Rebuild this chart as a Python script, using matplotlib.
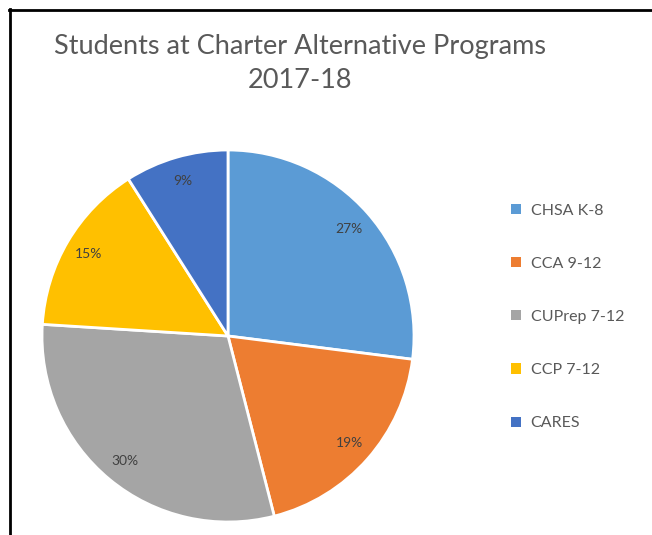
import matplotlib
matplotlib.use('Agg')
import matplotlib.pyplot as plt
from matplotlib.lines import Line2D
from matplotlib.patches import Patch

# Data
programs = ['CHSA K-8', 'CCA 9-12', 'CUPrep 7-12', 'CCP 7-12', 'CARES']
shares = [27, 19, 30, 15, 9]
colors = ['#5B9BD5', '#ED7D31', '#A5A5A5', '#FFC000', '#4472C4']
title = 'Students at Charter Alternative Programs\n2017-18'

plt.rcParams['font.family'] = ['Lato', 'DejaVu Sans']

W, H = 652, 535
fig = plt.figure(figsize=(W / 100, H / 100), dpi=100)

# pie axes placed in pixels: centre (228, 336), radius 186
cx, cy, r = 228, 336, 186
ax = fig.add_axes([(cx - r) / W, (H - cy - r) / H, 2 * r / W, 2 * r / H])
wedges, texts, autotexts = ax.pie(
    shares, colors=colors, startangle=90, counterclock=False,
    autopct='%1.0f%%', pctdistance=0.87, radius=1,
    wedgeprops=dict(edgecolor='white', linewidth=2),
    textprops=dict(color='#404040', fontsize=10))
ax.set_xlim(-1, 1)
ax.set_ylim(-1, 1)
ax.set_aspect('equal')
ax.axis('off')

fig.text(300 / W, 1 - 63.5 / H, title, ha='center', va='center',
         fontsize=19.5, color='#595959', linespacing=1.45)

handles = [Patch(facecolor=c, edgecolor='none') for c in colors]
fig.legend(handles, programs, loc='center left',
           bbox_to_anchor=(497 / W, 1 - 317 / H), frameon=False,
           fontsize=11.5, labelcolor='#595959', handlelength=0.6,
           handleheight=0.6, handletextpad=0.6, labelspacing=2.45)

# chart frame (only top and left edges visible in the crop)
fig.add_artist(Line2D([10 / W, 10 / W], [0, 1 - 9 / H], transform=fig.transFigure,
                      color='black', lw=2))
fig.add_artist(Line2D([9 / W, 1], [1 - 10 / H, 1 - 10 / H], transform=fig.transFigure,
                      color='black', lw=2))

fig.savefig('out.png', dpi=100)
